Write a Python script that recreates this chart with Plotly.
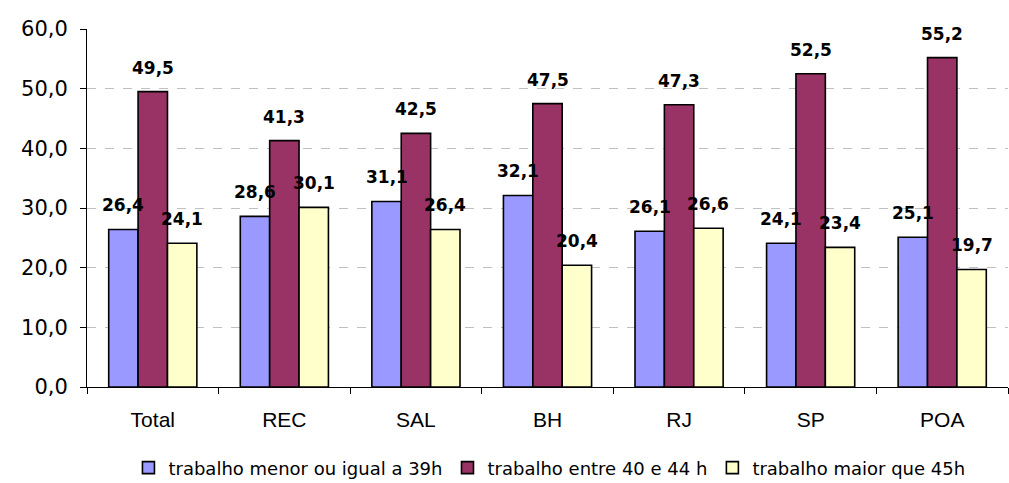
import plotly.graph_objects as go

categories = ["Total", "REC", "SAL", "BH", "RJ", "SP", "POA"]
ate_39h = [26.4, 28.6, 31.1, 32.1, 26.1, 24.1, 25.1]
entre_40_44h = [49.5, 41.3, 42.5, 47.5, 47.3, 52.5, 55.2]
maior_45h = [24.1, 30.1, 26.4, 20.4, 26.6, 23.4, 19.7]

series = [
    ("trabalho menor ou igual a 39h", ate_39h, "#9999FF"),
    ("trabalho entre 40 e 44 h", entre_40_44h, "#993366"),
    ("trabalho maior que 45h", maior_45h, "#FFFFCC"),
]

BARGAP = 0.33
bar_w = (1 - BARGAP) / len(series)
WIDE = "DejaVu Sans, Liberation Sans, Arial"

fig = go.Figure()
annotations = []
for k, (name, values, color) in enumerate(series):
    fig.add_trace(go.Bar(
        x=categories,
        y=values,
        name=name,
        marker=dict(color=color, line=dict(color="black", width=1.6)),
    ))
    offset = (k - (len(series) - 1) / 2) * bar_w
    for i, v in enumerate(values):
        annotations.append(dict(
            x=i + offset, y=v, xref="x", yref="y",
            text=f"{v:.1f}".replace(".", ","),
            showarrow=False,
            xanchor="center", yanchor="bottom",
            yshift=12,
            font=dict(family=WIDE, size=17, color="black", weight="bold"),
        ))

fig.update_layout(
    width=1009,
    height=483,
    margin=dict(l=87, r=1, t=29, b=96, autoexpand=False),
    paper_bgcolor="white",
    plot_bgcolor="white",
    barmode="group",
    bargap=BARGAP,
    bargroupgap=0,
    separators=",.",
    font=dict(family="Liberation Sans, Arial", color="black"),
    annotations=annotations,
    showlegend=True,
    legend=dict(
        orientation="h",
        x=0.045, xanchor="left",
        y=-0.226, yanchor="middle",
        font=dict(family=WIDE, size=18),
        itemwidth=30,
        tracegroupgap=0,
    ),
)

fig.update_yaxes(
    range=[0, 60],
    dtick=10,
    tickformat=".1f",
    tickfont=dict(family=WIDE, size=21),
    ticklabelstandoff=8,
    showgrid=True,
    gridcolor="#C0C0C0",
    griddash="dash",
    gridwidth=1,
    showline=True,
    linecolor="black",
    linewidth=1,
    ticks="outside",
    ticklen=6,
    tickcolor="black",
    zeroline=False,
    automargin=False,
)

fig.update_xaxes(
    tickfont=dict(size=21),
    ticklabelstandoff=14,
    showline=True,
    linecolor="black",
    linewidth=1,
    ticks="outside",
    tickson="boundaries",
    ticklen=6,
    tickcolor="black",
    automargin=False,
)

fig.write_html("out.html")
